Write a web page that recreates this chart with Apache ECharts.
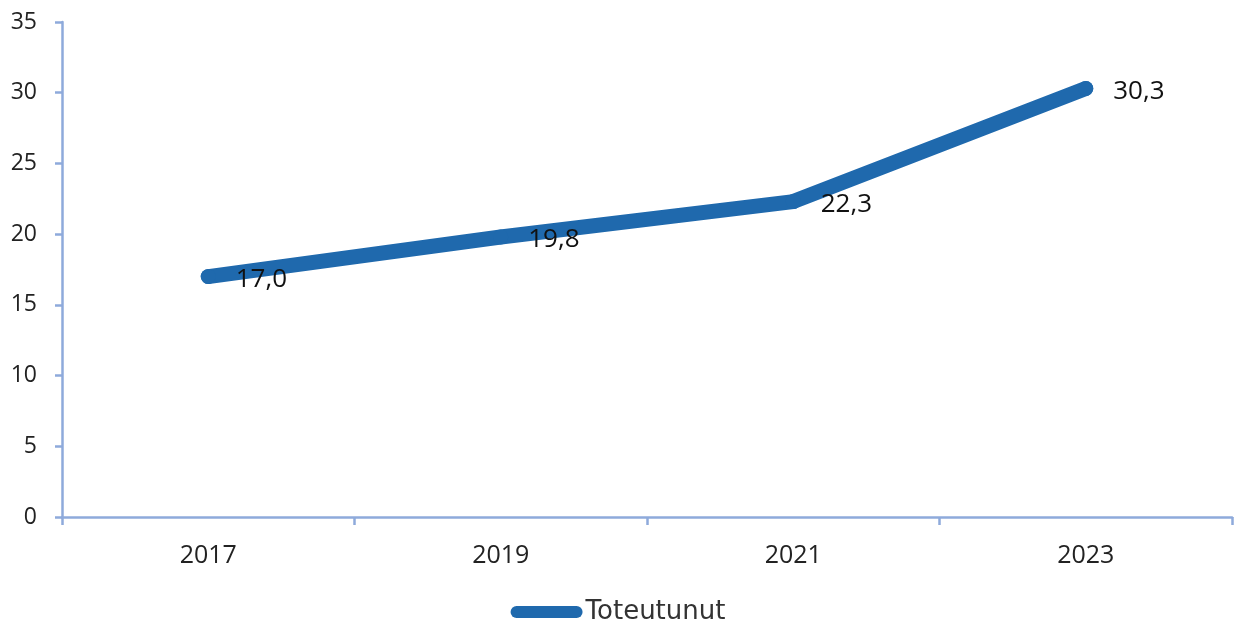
<!DOCTYPE html>
<html><head><meta charset="utf-8">
<script src="https://cdn.jsdelivr.net/npm/echarts@6/dist/echarts.min.js"></script>
<style>html,body{margin:0;padding:0;background:#fff}#c{width:1236px;height:632px}</style>
</head><body><div id="c"></div>
<script>
const categories = ['2017', '2019', '2021', '2023'];
const values = [17.0, 19.8, 22.3, 30.3];
const seriesName = 'Toteutunut';
const yTicks = { min: 0, max: 35, interval: 5 };

const lineColor = '#1f69ad';
const axisColor = '#8eaadb';
const chart = echarts.init(document.getElementById('c'));
chart.setOption({
  animation: false,
  grid: { left: 62, right: 4, top: 22, bottom: 115 },
  legend: {
    data: [{ name: seriesName, icon: 'path://M6,0 H66 A6,6 0 0 1 66,12 H6 A6,6 0 0 1 6,0 Z' }],
    bottom: 2, left: 'center', itemWidth: 72, itemHeight: 13, itemGap: 4,
    textStyle: { fontFamily: 'DejaVu Sans', fontSize: 26, color: '#333', padding: [0, 0, 0, -2] }
  },
  xAxis: {
    type: 'category', data: categories, boundaryGap: true,
    axisLine: { lineStyle: { color: axisColor, width: 2.5 } },
    axisTick: { show: true, length: 8, lineStyle: { color: axisColor, width: 2.5 } },
    axisLabel: { fontFamily: 'Open Sans', fontSize: 25, color: '#222', margin: 26 }
  },
  yAxis: {
    type: 'value', min: yTicks.min, max: yTicks.max, interval: yTicks.interval,
    splitLine: { show: false },
    axisLine: { show: true, lineStyle: { color: axisColor, width: 2.5 } },
    axisTick: { show: true, length: 7, lineStyle: { color: axisColor, width: 2.5 } },
    axisLabel: { fontFamily: 'Open Sans', fontSize: 23, color: '#222', margin: 25 }
  },
  series: [{
    name: seriesName, type: 'line', data: values,
    symbol: 'circle', symbolSize: 15,
    itemStyle: { color: lineColor },
    lineStyle: { color: lineColor, width: 15, cap: 'round', join: 'round' },
    label: {
      show: true, position: 'right', distance: 20, offset: [0, 3],
      fontFamily: 'Open Sans', fontSize: 26, color: '#111',
      formatter: p => p.value.toFixed(1).replace('.', ',')
    }
  }]
});
</script></body></html>
